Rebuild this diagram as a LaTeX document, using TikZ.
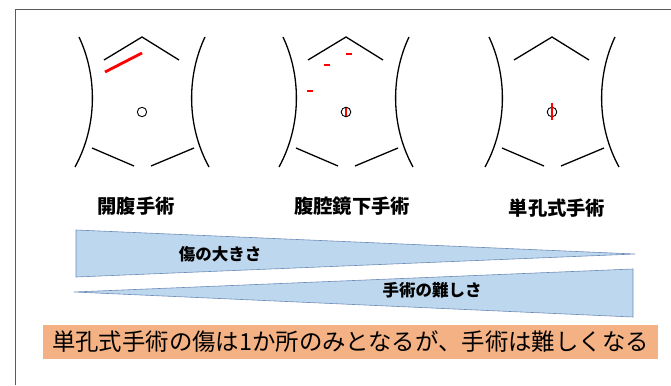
\documentclass[tikz,border=0pt]{standalone}
\usepackage{fontspec}
\usepackage{tikz}
\newfontfamily\jp{Noto Sans CJK JP}

\definecolor{wedgefill}{RGB}{189,215,238}
\definecolor{wedgeline}{RGB}{110,140,185}
\definecolor{notefill}{RGB}{244,177,131}
\definecolor{framegray}{RGB}{90,90,90}

\tikzset{
	body/.style={line width=1.3pt,black},
	cut/.style={line width=2.8pt,red},
	wedge/.style={fill=wedgefill,draw=wedgeline,line width=0.6pt},
	title/.style={font=\jp\bfseries\fontsize{19.3}{20}\selectfont},
	wedgetext/.style={font=\jp\bfseries\fontsize{16.5}{18}\selectfont}
}

\begin{document}
\begin{tikzpicture}[x=1pt,y=-1pt]
	\useasboundingbox (0,0) rectangle (671,385);
	\draw[framegray,line width=1pt] (15,385) -- (15,10) -- (671,10);

	% three abdomens, centred on the navel
	\foreach \cx in {142,346,552} {
		\begin{scope}[shift={(\cx,112)}]
			\draw[body] (-63,-75) .. controls (-45,-37) and (-44,13) .. (-67,55);
			\draw[body] (63,-75) .. controls (45,-37) and (44,13) .. (67,55);
			\draw[body] (-38,-52) -- (0,-75) -- (37,-52);
			\draw[body] (-50,36) -- (-8,54);
			\draw[body] (9,54) -- (52,36);
		\end{scope}
	}
	\draw[line width=0.9pt] (142,112) circle (4.7);
	\draw[cut] (105,72) -- (142,53);

	\draw[cut,line width=2.6pt] (346,107) -- (346,117);
	\draw[line width=0.9pt] (346,112) circle (4.8);
	\draw[cut] (346,54) -- (352,54);
	\draw[cut] (324,65) -- (330,65);
	\draw[cut] (307,91) -- (313,91);

	\draw[line width=0.9pt] (552,112) circle (4.8);
	\draw[cut,line width=2.6pt] (552,103) -- (552,120);

	\node[title] (open) at (136,206) {開腹手術};
	\node[title] (lap) at (352,206) {腹腔鏡下手術};
	\node[title] (single) at (557,208) {単孔式手術};

	\draw[wedge] (76,230) -- (635,254) -- (76,277) -- cycle;
	\node[wedgetext] (size) at (220,254) {傷の大きさ};
	\draw[wedge] (74,292) -- (633,269) -- (633,317) -- cycle;
	\node[wedgetext] (hard) at (432,290) {手術の難しさ};

	\node[fill=notefill,minimum width=615,minimum height=34,inner sep=0pt,
		font=\jp\fontsize{23.4}{25}\selectfont] (note) at (350.5,342)
		{単孔式手術の傷は1か所のみとなるが、手術は難しくなる};
\end{tikzpicture}
\end{document}
